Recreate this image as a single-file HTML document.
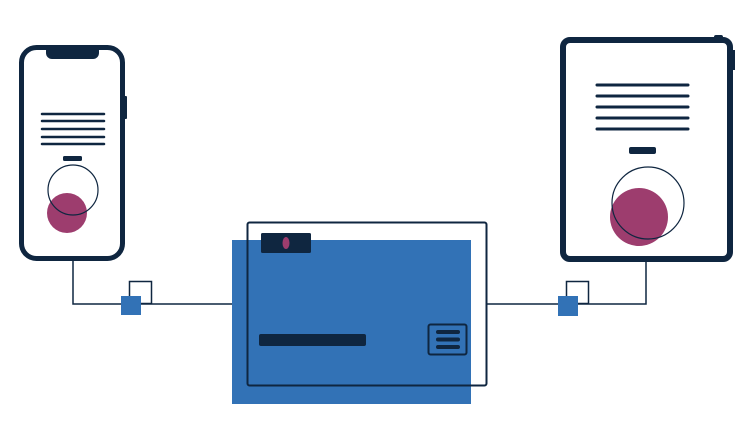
<!DOCTYPE html>
<html><head><style>html,body{margin:0;padding:0;background:#fff}svg{display:block}</style></head>
<body>
<svg width="752" height="428" viewBox="0 0 752 428" xmlns="http://www.w3.org/2000/svg">
<g fill="none" stroke="#0f2640" stroke-width="1.5">
<polyline points="73,261 73,304 232,304"/>
<rect x="129.5" y="281.5" width="22" height="22"/>
<polyline points="646,262 646,304 487,304"/>
<rect x="566.5" y="281.5" width="22" height="22"/>
</g>
<rect x="121" y="296" width="20" height="19" fill="#3272b6"/>
<rect x="558" y="296" width="20" height="20" fill="#3272b6"/>
<!-- phone -->
<rect x="121" y="96" width="6" height="23" rx="1" fill="#0f2640"/>
<rect x="21.5" y="47.5" width="101" height="211" rx="15" fill="#fff" stroke="#0f2640" stroke-width="5"/>
<rect x="46" y="45" width="53" height="14" rx="6" fill="#0f2640"/>
<g stroke="#0f2640" stroke-width="2.5" stroke-linecap="round">
<line x1="42" y1="114" x2="104" y2="114"/><line x1="42" y1="121" x2="104" y2="121"/>
<line x1="42" y1="129" x2="104" y2="129"/><line x1="42" y1="137" x2="104" y2="137"/>
<line x1="42" y1="144" x2="104" y2="144"/></g>
<rect x="63" y="156" width="19" height="5" rx="1.5" fill="#0f2640"/>
<circle cx="67" cy="213" r="20" fill="#9d3d6e"/>
<circle cx="73" cy="190" r="25" fill="none" stroke="#0f2640" stroke-width="1.2"/>
<!-- tablet -->
<rect x="714" y="35" width="9" height="6" rx="2" fill="#0f2640"/>
<rect x="731" y="50" width="4" height="20" fill="#0f2640"/>
<rect x="563" y="40" width="167" height="219" rx="7" fill="#fff" stroke="#0f2640" stroke-width="6"/>
<g stroke="#0f2640" stroke-width="3" stroke-linecap="round">
<line x1="597" y1="85" x2="688" y2="85"/><line x1="597" y1="96" x2="688" y2="96"/>
<line x1="597" y1="107" x2="688" y2="107"/><line x1="597" y1="118" x2="688" y2="118"/>
<line x1="597" y1="129" x2="688" y2="129"/></g>
<rect x="629" y="147" width="27" height="7" rx="2" fill="#0f2640"/>
<circle cx="639" cy="217" r="29" fill="#9d3d6e"/>
<circle cx="648" cy="203" r="36" fill="none" stroke="#0f2640" stroke-width="1.2"/>
<!-- center -->
<rect x="232" y="240" width="239" height="164" fill="#3272b6"/>
<rect x="247.5" y="222.5" width="239" height="163" rx="2" fill="none" stroke="#0f2640" stroke-width="2"/>
<rect x="261" y="233" width="50" height="20" rx="1.5" fill="#0f2640"/>
<ellipse cx="286" cy="243" rx="3.5" ry="6" fill="#9d3d6e"/>
<rect x="259" y="334" width="107" height="12" rx="2" fill="#0f2640"/>
<rect x="428.5" y="324.5" width="38" height="30" rx="2" fill="none" stroke="#0f2640" stroke-width="2"/>
<g stroke="#0f2640" stroke-width="4" stroke-linecap="round">
<line x1="438" y1="332" x2="458" y2="332"/><line x1="438" y1="339.5" x2="458" y2="339.5"/><line x1="438" y1="347" x2="458" y2="347"/></g>
</svg>
</body></html>
